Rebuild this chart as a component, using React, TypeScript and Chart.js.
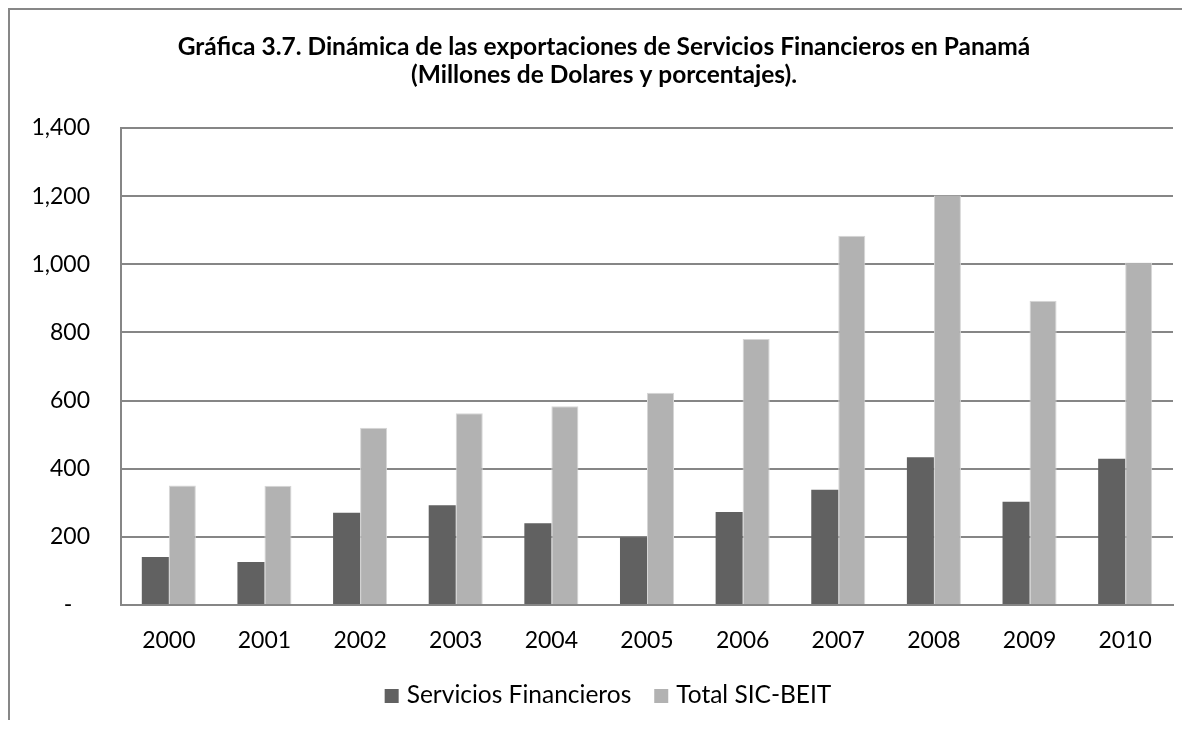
import React, { useEffect, useRef } from "react";
import { Chart, registerables } from "chart.js";

Chart.register(...registerables);

const years = ["2000", "2001", "2002", "2003", "2004", "2005", "2006", "2007", "2008", "2009", "2010"];
const serviciosFinancieros = [141, 126, 271, 293, 240, 199, 273, 338, 434, 303, 429];
const totalSicBeit = [351, 350, 520, 563, 583, 623, 781, 1084, 1202, 893, 1005];
const yTickValues = [0, 200, 400, 600, 800, 1000, 1200, 1400];
const seriesLabels = ["Servicios Financieros", "Total SIC-BEIT"];
const seriesColors = ["#616161", "#b2b2b2"];
const titleLines = [
  "Gráfica 3.7. Dinámica de las exportaciones de Servicios Financieros en Panamá",
  "(Millones de Dolares y porcentajes).",
];

const FONT = "Lato, 'Open Sans', 'DejaVu Sans', sans-serif";
const GRID = "#868686";

function formatTick(v: number): string {
  if (v === 0) return "-   ";
  return v.toLocaleString("en-US");
}

const titleLegendPlugin = {
  id: "titleLegend",
  afterDraw(chart: any) {
    const ctx = chart.ctx as CanvasRenderingContext2D;
    ctx.save();
    // title
    ctx.fillStyle = "#000";
    ctx.textAlign = "center";
    ctx.textBaseline = "alphabetic";
    ctx.font = `bold 24.5px ${FONT}`;
    titleLines.forEach((t, i) => ctx.fillText(t, 594, 45 + i * 28));
    // legend
    ctx.font = `24.5px ${FONT}`;
    const box = 14;
    const gapBoxText = 8;
    const gapItems = 23;
    const datasets = chart.data.datasets;
    const widths = datasets.map((d: any) => ctx.measureText(d.label).width);
    let total = 0;
    widths.forEach((w: number, i: number) => {
      total += box + gapBoxText + w + (i < widths.length - 1 ? gapItems : 0);
    });
    let x = 598 - total / 2;
    const baseline = 693;
    ctx.textAlign = "left";
    datasets.forEach((d: any, i: number) => {
      ctx.fillStyle = d.backgroundColor;
      ctx.fillRect(x, baseline - box, box, box);
      x += box + gapBoxText;
      ctx.fillStyle = "#000";
      ctx.fillText(d.label, x, baseline);
      x += widths[i] + gapItems;
    });
    ctx.restore();
  },
};

export default function App() {
  const canvasRef = useRef<HTMLCanvasElement | null>(null);

  useEffect(() => {
    if (!canvasRef.current) return;
    const chart = new Chart(canvasRef.current, {
      type: "bar",
      data: {
        labels: years,
        datasets: [
          {
            label: seriesLabels[0],
            data: serviciosFinancieros,
            backgroundColor: seriesColors[0],
            borderWidth: 0,
            categoryPercentage: 0.565,
            barPercentage: 1.0,
          },
          {
            label: seriesLabels[1],
            data: totalSicBeit,
            backgroundColor: seriesColors[1],
            borderColor: "#d6d6d6",
            borderWidth: { left: 1, right: 1, top: 1, bottom: 0 },
            categoryPercentage: 0.565,
            barPercentage: 1.0,
          },
        ],
      },
      options: {
        responsive: false,
        animation: false,
        layout: { padding: { left: 0, top: 118, right: 9, bottom: 65 } },
        plugins: {
          legend: { display: false },
          title: { display: false },
          tooltip: { enabled: false },
        },
        scales: {
          x: {
            grid: { display: false, drawTicks: false },
            border: { display: true, color: GRID, width: 2 },
            ticks: {
              padding: 22,
              color: "#000",
              autoSkip: false,
              maxRotation: 0,
              font: { family: FONT, size: 23 },
            },
            afterFit: (s: any) => {
              s.height = 50;
            },
          },
          y: {
            min: 0,
            max: 1400,
            afterBuildTicks: (s: any) => {
              s.ticks = yTickValues.map((v) => ({ value: v }));
            },
            afterFit: (s: any) => {
              s.width = 111;
            },
            grid: { color: GRID, lineWidth: 2, drawTicks: false },
            border: { display: true, color: GRID, width: 2 },
            ticks: {
              padding: 31,
              color: "#000",
              font: { family: FONT, size: 23 },
              callback: (v: any) => formatTick(Number(v)),
            },
          },
        },
      },
      plugins: [titleLegendPlugin],
    });
    return () => chart.destroy();
  }, []);

  return (
    <div
      style={{
        width: 1172,
        height: 710,
        borderTop: "2px solid #878787",
        borderLeft: "2px solid #878787",
        background: "#fff",
      }}
    >
      <canvas ref={canvasRef} width={1172} height={710} style={{ display: "block" }} />
    </div>
  );
}
